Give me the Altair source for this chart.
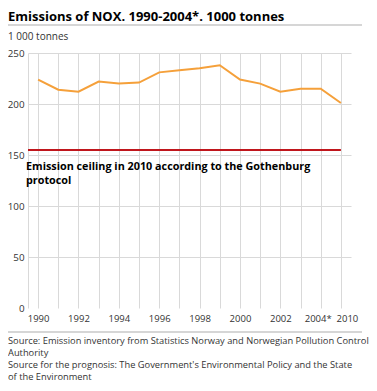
import altair as alt
import pandas as pd

years = ["1990", "1991", "1992", "1993", "1994", "1995", "1996", "1997",
         "1998", "1999", "2000", "2001", "2002", "2003", "2004*", "2010"]
nox = [224, 214, 212, 222, 220, 221, 231, 233, 235, 238, 224, 220, 212, 215, 215, 201]
shown_labels = ["1990", "1992", "1994", "1996", "1998", "2000", "2002", "2004*", "2010"]
ceiling = [155]
ceiling_label = ["Emission ceiling in 2010 according to the Gothenburg", "protocol"]
title_text = "Emissions of NOX. 1990-2004*. 1000 tonnes"
unit_text = "1 000 tonnes"
source_lines = [
    "Source: Emission inventory from Statistics Norway and Norwegian Pollution Control",
    "Authority",
    "Source for the prognosis: The Government's Environmental Policy and the State",
    "of the Environment",
]

FONT = "Open Sans"
GRID = "#d9d9d9"
ORANGE = "#f5a03a"
RED = "#c0161c"
TXT = "#333333"

df = pd.DataFrame({"year": years, "value": nox})
df_ceil = pd.DataFrame({"value": ceiling})
one = pd.DataFrame({"k": [0]})

label_test = " || ".join([f"datum.label == '{s}'" for s in shown_labels])

x_enc = alt.X(
    "year:N", sort=years, title=None,
    scale=alt.Scale(type="point", padding=0.5),
    axis=alt.Axis(
        labelExpr=f"({label_test}) ? datum.label : ''", labelAngle=0,
        grid=True, gridColor=GRID, ticks=False, domain=False,
        labelPadding=5, labelFontSize=9.5, labelColor=TXT, labelFont=FONT,
        labelOffset={"condition": [
            {"test": "datum.label == '2004*'", "value": -3},
            {"test": "datum.label == '2010'", "value": 6}], "value": 0},
    ),
)
y_enc = alt.Y(
    "value:Q", title=None,
    scale=alt.Scale(domain=[0, 250], nice=False),
    axis=alt.Axis(values=[0, 50, 100, 150, 200, 250], grid=True,
                  gridColor=alt.condition("datum.value == 0", alt.value("transparent"), alt.value(GRID)),
                  ticks=False, domain=True, domainColor=GRID,
                  labelPadding=4, labelFontSize=9.8, labelColor=TXT, labelFont=FONT),
)

line = alt.Chart(df).mark_line(color=ORANGE, strokeWidth=2).encode(x=x_enc, y=y_enc)

ceil_rule = alt.Chart(df_ceil).mark_rule(color=RED, strokeWidth=2).encode(
    x=alt.datum("2010"), x2=alt.value(0), y="value:Q"
)

ceil_text = alt.Chart(one).mark_text(
    align="left", baseline="middle", font=FONT, fontSize=10.8, fontWeight="bold",
    color="#000000", lineHeight=13.5
).encode(x=alt.value(-2), y=alt.value(114), text=alt.value(ceiling_label))

title = alt.Chart(one).mark_text(
    align="left", baseline="middle", font=FONT, fontSize=13, fontWeight="bold", color="#000000"
).encode(x=alt.value(-20), y=alt.value(-36), text=alt.value(title_text))

title_rule = alt.Chart(one).mark_rule(color="#c8c8c8", strokeWidth=1.5).encode(
    x=alt.value(-20), x2=alt.value(334), y=alt.value(-28))

unit = alt.Chart(one).mark_text(
    align="left", baseline="middle", font=FONT, fontSize=10, color=TXT
).encode(x=alt.value(-20), y=alt.value(-16), text=alt.value(unit_text))

foot_rule = alt.Chart(one).mark_rule(color="#c8c8c8", strokeWidth=1.5).encode(
    x=alt.value(-20), x2=alt.value(334), y=alt.value(279))

sources = alt.Chart(one).mark_text(
    align="left", baseline="middle", font=FONT, fontSize=9.3, color=TXT, lineHeight=12
).encode(x=alt.value(-20), y=alt.value(288), text=alt.value(source_lines))

chart = alt.layer(
    line, ceil_rule, ceil_text, title, title_rule, unit, foot_rule, sources
).properties(
    width=323, height=255,
    padding={"left": 20, "top": 45, "right": 18, "bottom": 75},
    autosize="none",
).configure_view(stroke=None)

chart.save("out.html", embed_options={"renderer": "svg", "actions": False})
